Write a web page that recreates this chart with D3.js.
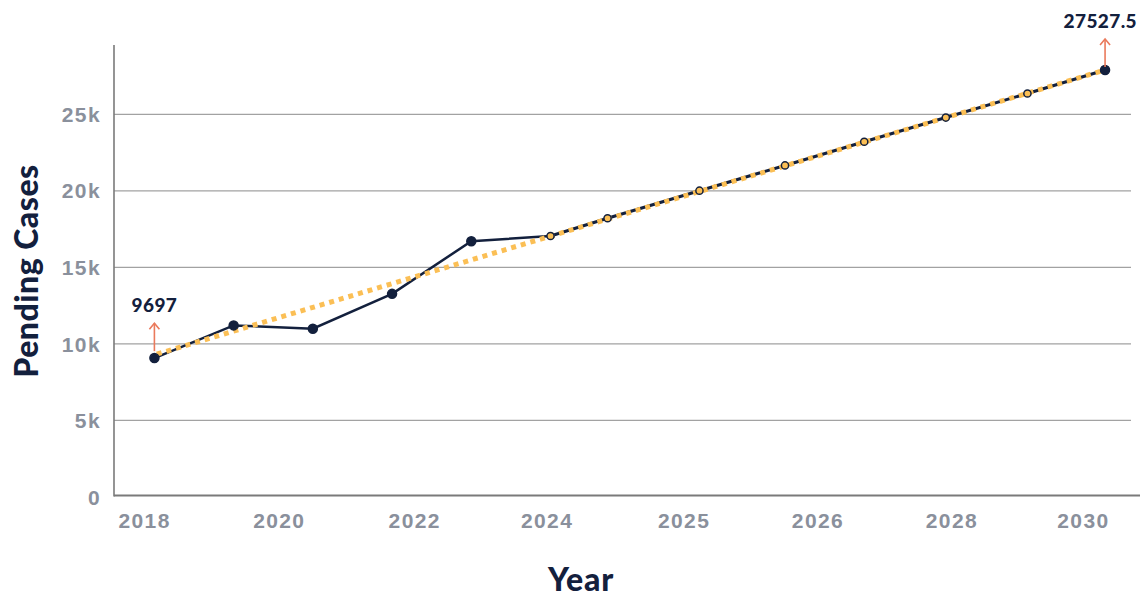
<!DOCTYPE html>
<html>
<head>
<meta charset="utf-8">
<script src="https://cdn.jsdelivr.net/npm/d3@7"></script>
<style>
	body { margin: 0; background: #fff; }
	svg { display: block; font-family: Lato, "Noto Sans", sans-serif; }
	.tick text { fill: #8a909c; font-weight: 700; font-size: 21px; letter-spacing: 1.4px; }
</style>
</head>
<body>
<div id="chart"></div>
<script>
// observed pending cases
const actualYears  = [2018, 2019, 2020, 2021, 2022, 2023];
const actualValues = [9045, 11180, 10960, 13240, 16680, 17020];

// projected pending cases
const projectedYears  = [2023, 2023.72, 2024.88, 2025.96, 2026.96, 2027.99, 2029.02, 2030];
const projectedValues = [17020, 18180, 19980, 21630, 23180, 24760, 26330, 27870];

// linear trend
const trendYears  = [2018.03, 2030];
const trendValues = [9300, 27870];

// annotations
const annotationYears  = [2018, 2030];
const annotationValues = [9300, 27870];
const annotationLabels = ["9697", "27527.5"];

// axes
const xTickValues = [2017.87, 2019.57, 2021.28, 2022.95, 2024.68, 2026.37, 2028.06, 2029.72];
const xTickLabels = ["2018", "2020", "2022", "2024", "2025", "2026", "2028", "2030"];
const yTickValues = [0, 5000, 10000, 15000, 20000, 25000];
const yTickLabels = ["0", "5k", "10k", "15k", "20k", "25k"];

const width = 1140, height = 601;
const navy = "#13203d", gold = "#fbbf55", salmon = "#ea7a5c";

let x = d3.scaleLinear().domain([2017.49, 2030.34]).range([114, 1132]);
let y = d3.scaleLinear().domain([0, 29500]).range([496.5, 45]);

let svg = d3.select("#chart").append("svg")
	.attr("width", width)
	.attr("height", height);

// gridlines + y labels
let yAxis = svg.append("g")
	.attr("transform", "translate(114,0)")
	.call(d3.axisLeft(y)
		.tickValues(yTickValues)
		.tickFormat((d, i) => yTickLabels[i])
		.tickSize(-(1131 - 114))
		.tickPadding(13));

yAxis.select(".domain").remove();
yAxis.selectAll(".tick line")
	.attr("stroke", "#a2a2a2")
	.attr("stroke-width", 1.2)
	.filter(d => d === 0).remove();
yAxis.selectAll(".tick text").attr("dy", "0.36em");

svg.append("line")
	.attr("x1", 114).attr("x2", 114)
	.attr("y1", 45).attr("y2", y(0))
	.attr("stroke", "#7a7a7a")
	.attr("stroke-width", 1.6);

// x labels
let xAxis = svg.append("g")
	.attr("transform", `translate(0,${y(0)})`)
	.call(d3.axisBottom(x)
		.tickValues(xTickValues)
		.tickFormat((d, i) => xTickLabels[i])
		.tickSize(0)
		.tickPadding(17));

xAxis.select(".domain").remove();

svg.append("line")
	.attr("x1", 114).attr("x2", width)
	.attr("y1", y(0) - 1).attr("y2", y(0) - 1)
	.attr("stroke", "#7a7a7a")
	.attr("stroke-width", 2);

// axis titles
svg.append("text")
	.attr("transform", `translate(38,${271}) rotate(-90)`)
	.attr("text-anchor", "middle")
	.attr("fill", navy)
	.style("font-size", "32px")
	.style("font-weight", 900)
	.style("letter-spacing", "0.5px")
	.text("Pending Cases");

svg.append("text")
	.attr("x", 581).attr("y", 591)
	.attr("text-anchor", "middle")
	.attr("fill", navy)
	.style("font-size", "32px")
	.style("font-weight", 900)
	.style("letter-spacing", "0.8px")
	.text("Year");

let line = d3.line()
	.x(d => x(d[0]))
	.y(d => y(d[1]));

let actual = d3.zip(actualYears, actualValues);
let projected = d3.zip(projectedYears, projectedValues);
let trend = d3.zip(trendYears, trendValues);

svg.append("path")
	.datum(actual)
	.attr("d", line)
	.attr("fill", "none")
	.attr("stroke", navy)
	.attr("stroke-width", 2.5);

svg.append("path")
	.datum(projected)
	.attr("d", line)
	.attr("fill", "none")
	.attr("stroke", navy)
	.attr("stroke-width", 3);

svg.append("path")
	.datum(trend)
	.attr("d", line)
	.attr("fill", "none")
	.attr("stroke", gold)
	.attr("stroke-width", 5)
	.attr("stroke-dasharray", "5 5");

// projected points (hollow), last one filled
svg.append("g").selectAll("circle")
	.data(projected.slice(1))
	.join("circle")
	.attr("cx", d => x(d[0]))
	.attr("cy", d => y(d[1]))
	.attr("r", (d, i, n) => i === n.length - 1 ? 4.5 : 3.6)
	.attr("fill", (d, i, n) => i === n.length - 1 ? navy : gold)
	.attr("stroke", navy)
	.attr("stroke-width", 1.5);

svg.append("g").selectAll("circle")
	.data(actual)
	.join("circle")
	.attr("cx", d => x(d[0]))
	.attr("cy", d => y(d[1]))
	.attr("r", (d, i) => i === actual.length - 1 ? 3.6 : 4.5)
	.attr("fill", (d, i) => i === actual.length - 1 ? gold : navy)
	.attr("stroke", navy)
	.attr("stroke-width", 1.5);

// annotation arrows
let notes = svg.append("g").selectAll("g")
	.data(annotationLabels)
	.join("g")
	.attr("transform", (d, i) => `translate(${x(annotationYears[i])},${y(annotationValues[i])})`);

notes.append("line")
	.attr("y1", -3).attr("y2", -31)
	.attr("stroke", salmon)
	.attr("stroke-width", 1.6);

notes.append("path")
	.attr("d", "M-5,-25 L0,-31 L5,-25")
	.attr("fill", "none")
	.attr("stroke", salmon)
	.attr("stroke-width", 1.6);

notes.append("text")
	.attr("y", -42)
	.attr("text-anchor", "middle")
	.attr("fill", navy)
	.style("font-size", "19px")
	.style("font-weight", 900)
	.style("letter-spacing", "0.4px")
	.text(d => d)
	.each(function(d, i) {
		// keep the right-hand label inside the frame
		let cx = x(annotationYears[i]);
		let half = this.getComputedTextLength() / 2;
		let over = cx + half - (width - 3);
		if (over > 0) d3.select(this).attr("x", -over);
	});
</script>
</body>
</html>
